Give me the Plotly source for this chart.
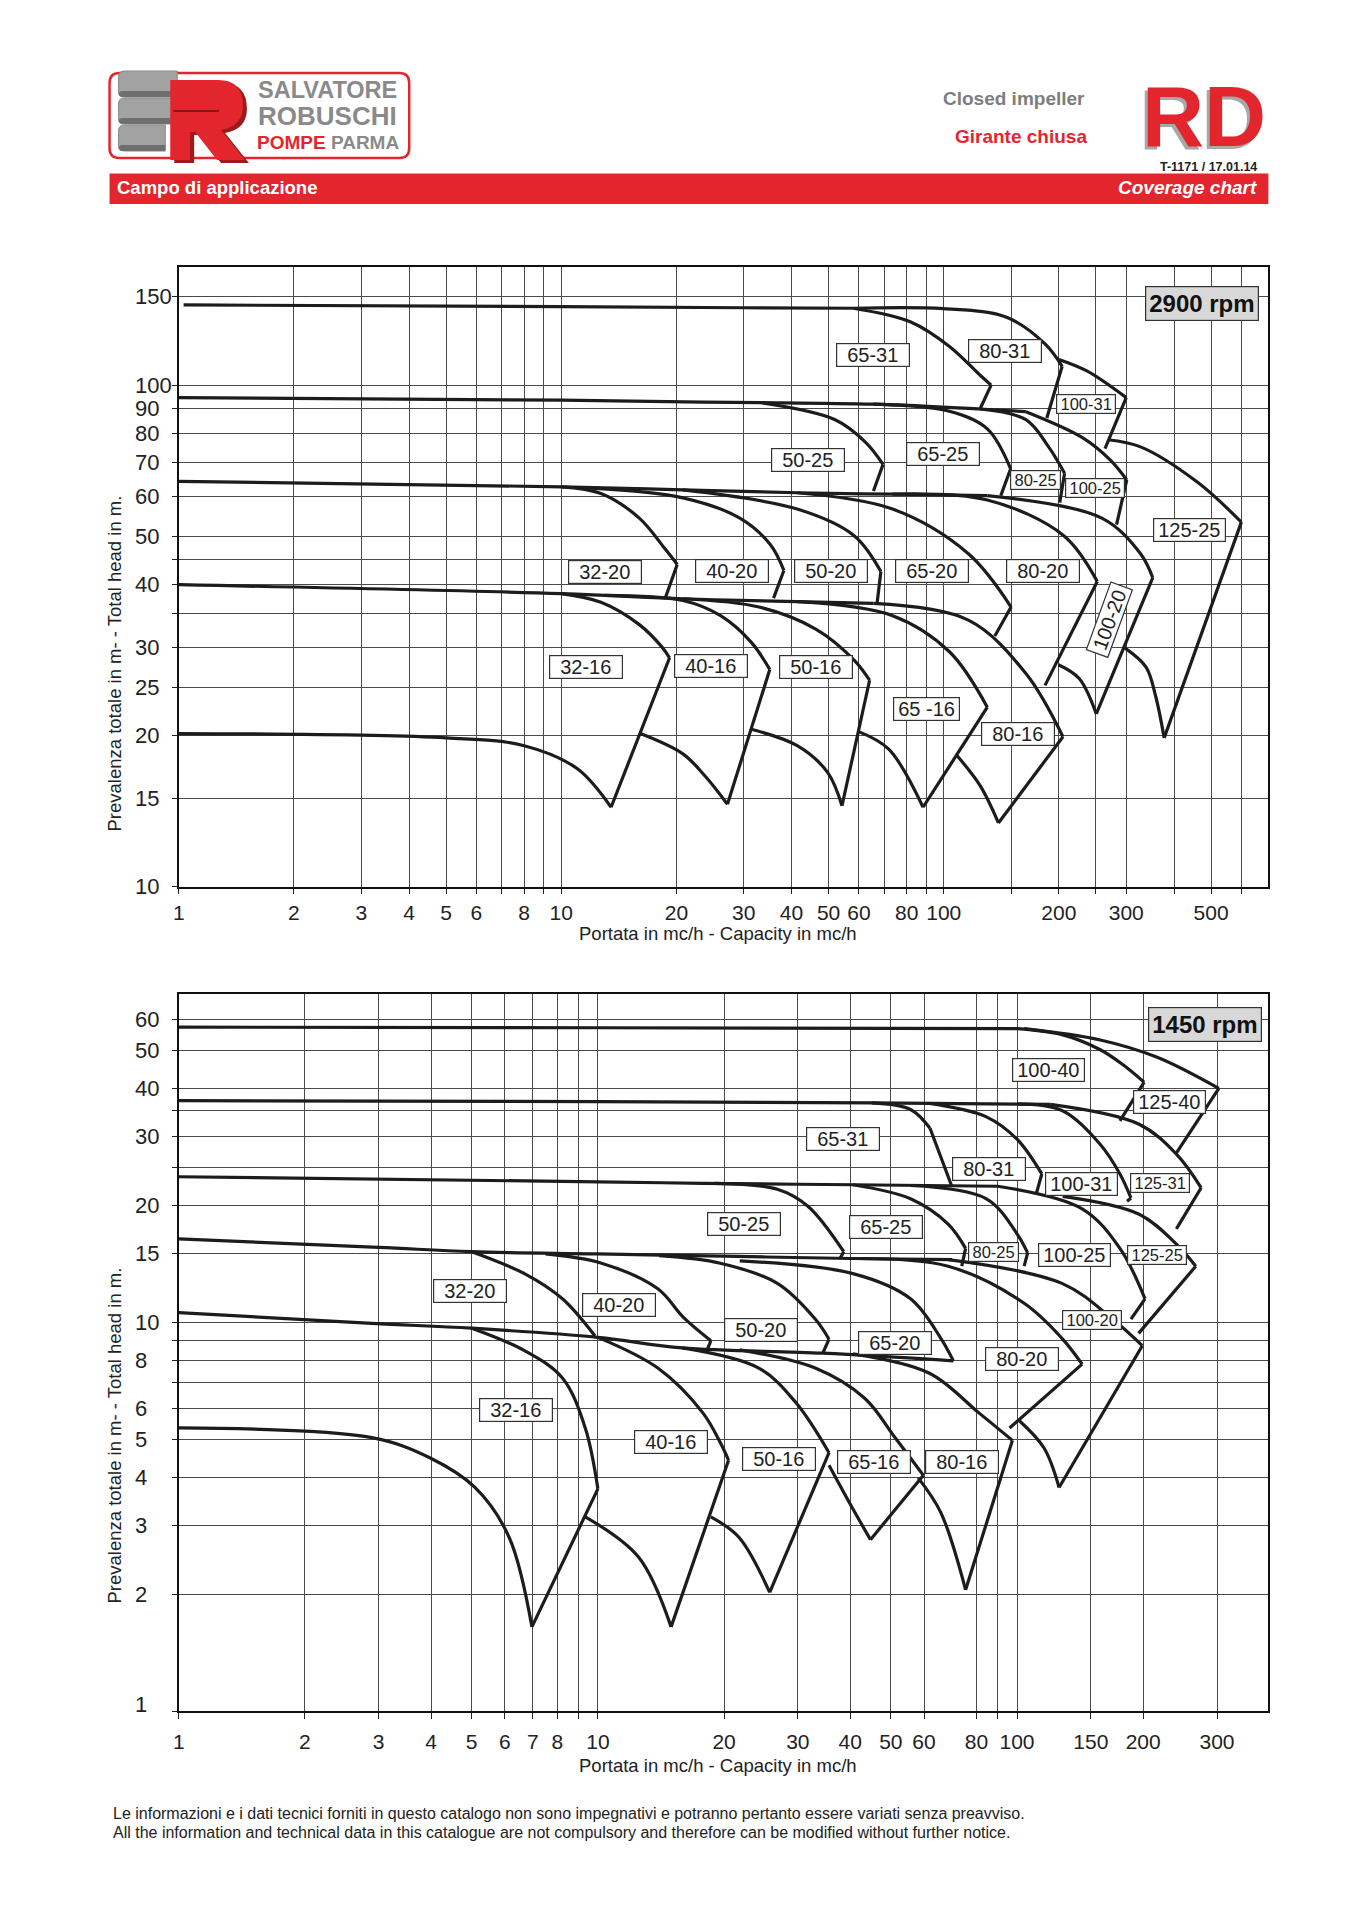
import math
import plotly.graph_objects as go

# ---------------- DATA : 2900 rpm (Q in mc/h, H in m) ----------------
T_LINE_145 = [(1.03, 144.5), (10, 143.3), (30, 142.6), (58, 142.3)]
T_LINE_94 = [(1, 94.4), (10, 93.3), (23.5, 92.5), (33, 92.3), (65.5, 91.6), (124.5, 89.6), (164, 88.5)]
T_LINE_63 = [(1, 64.3), (10, 62.7), (20.8, 61.8), (41.4, 61.0), (73.5, 60.6), (130, 60.2)]
T_LINE_40 = [(1, 40.0), (10, 38.4), (20.8, 37.5), (41.4, 37.0), (65.5, 36.7)]

T_65_31_UP = [(58, 142.3), (82, 133.6), (103.5, 119.4), (124.5, 104.6), (133, 100)]
T_65_31_END = (124.5, 89.7)
T_80_31_UP = [(58, 142.3), (100, 142), (146, 136.5), (184, 120.8), (204, 109)]
T_80_31_END = (186, 86)
T_100_31_UP = [(200, 112.5), (236.7, 106.7), (300, 94.4)]
T_100_31_END = (264, 74.7)
T_50_25_UP = [(33, 92.3), (52, 85.3), (62.5, 76.9), (69.4, 69.5)]
T_50_25_END = (65.5, 61.5)
T_65_25_UP = [(65.5, 91.6), (103.5, 88.7), (130, 81.8), (149.6, 68.1)]
T_65_25_END = (141, 60.2)
T_80_25_UP = [(124.5, 89.6), (164, 85.3), (188, 75.3), (207, 66.7)]
T_80_25_END = (201, 58.3)
T_100_25_UP = [(164, 88.5), (231, 78.5), (272, 71.0), (301, 64.7)]
T_100_25_END = (283, 52.7)
T_125_25_UP = [(268.7, 77.8), (327, 75.3), (461, 64.0), (600, 53.3)]
T_125_25_END = (377, 19.8)
T_125_25_LOW = [(298, 29.9), (338, 27.4), (358, 24.0), (377, 19.8)]
T_32_20_UP = [(10, 62.7), (12.7, 60.8), (16, 54.3), (18.7, 47.1), (20.1, 43.9)]
T_32_20_END = (18.7, 37.6)
T_40_20_UP = [(12, 62.3), (20.8, 59.6), (29.3, 54.3), (35.2, 48.1), (38.2, 42.7)]
T_40_20_END = (35.9, 37.6)
T_50_20_UP = [(20.8, 61.8), (41.4, 56.6), (58.3, 50.1), (68.5, 42.5)]
T_50_20_END = (67.0, 36.9)
T_65_20_UP = [(41.4, 61.0), (73.5, 56.6), (116, 46.1), (150, 36.1)]
T_65_20_END = (136, 31.6)
T_80_20_UP = [(73.5, 60.6), (130, 59.0), (206, 50.1), (252, 40.6)]
T_80_20_END = (184, 25.2)
T_100_20_UP = [(130, 60.2), (259, 54.3), (327, 46.1), (352, 41.3)]
T_100_20_END = (250.5, 22.1)
T_100_20_LOW = [(199.5, 27.7), (226, 26.0), (250.5, 22.1)]
T_32_16_UP = [(10, 38.4), (12.7, 36.9), (16, 33.3), (18.3, 30.1), (19.2, 28.6)]
T_32_16_END = (13.5, 14.4)
T_32_16_LOW = [(1, 20.2), (5, 19.8), (8, 19.1), (11, 17.2), (13.5, 14.4)]
T_40_16_UP = [(13, 38.1), (20.8, 37.2), (26.1, 34.7), (31.4, 30.7), (35.1, 27.1)]
T_40_16_END = (27.2, 14.6)
T_40_16_LOW = [(16.1, 20.2), (20.8, 18.4), (23.8, 16.6), (27.2, 14.6)]
T_50_16_UP = [(20.8, 37.5), (32.9, 36.1), (46.4, 32.6), (58.3, 28.3), (64.0, 25.8)]
T_50_16_END = (54.2, 14.5)
T_50_16_LOW = [(31.4, 20.6), (41.4, 19.1), (49.7, 16.9), (54.2, 14.5)]
T_65_16_UP = [(41.4, 37.0), (73.5, 34.7), (103.5, 29.4), (130, 22.8)]
T_65_16_END = (88.3, 14.4)
T_65_16_LOW = [(59.7, 20.4), (71.8, 18.8), (88.3, 14.4)]
T_80_16_UP = [(65.5, 36.7), (116, 34.0), (164, 26.6), (205, 19.9)]
T_80_16_END = (139, 13.4)
T_80_16_LOW = [(108, 18.3), (124.5, 15.9), (139, 13.4)]

T_LABEL_NAMES = ["65-31", "80-31", "100-31", "50-25", "65-25", "80-25", "100-25", "125-25",
                 "32-20", "40-20", "50-20", "65-20", "80-20", "100-20",
                 "32-16", "40-16", "50-16", "65 -16", "80-16"]
T_LABEL_Q = [65.2, 144.5, 235, 44.3, 99.6, 174, 248, 438,
             13.05, 28.0, 50.8, 93.3, 182, 272,
             11.6, 24.7, 46.4, 90.3, 156.6]
T_LABEL_H = [114.7, 117, 91.6, 71, 72.8, 64.7, 62.4, 51.3,
             42.4, 42.5, 42.5, 42.5, 42.5, 34.1,
             27.4, 27.5, 27.4, 22.6, 20.2]

T_X_TICKS = [1, 2, 3, 4, 5, 6, 8, 10, 20, 30, 40, 50, 60, 80, 100, 200, 300, 500]
T_X_GRID = [1, 2, 3, 4, 5, 6, 7, 8, 9, 10, 20, 30, 40, 50, 60, 70, 80, 90, 100,
            150, 200, 250, 300, 400, 500, 600]
T_Y_TICKS = [10, 15, 20, 25, 30, 40, 50, 60, 70, 80, 90, 100, 150]
T_Y_GRID = [10, 15, 20, 25, 30, 35, 40, 45, 50, 60, 70, 80, 90, 100, 150]

# ---------------- DATA : 1450 rpm ----------------
B_LINE_57 = [(1, 57.5), (10, 57.3), (100, 57.0)]
B_LINE_37 = [(1, 37.2), (10, 37.0), (45, 36.7), (120, 36.4)]
B_LINE_23 = [(1, 23.7), (10, 23.0), (17.8, 22.8), (40.6, 22.6), (90, 22.4)]
B_LINE_16 = [(1, 16.4), (3, 15.6), (5, 15.2), (10, 15.0), (20, 14.8), (40, 14.6), (70, 14.5)]
B_LINE_10 = [(1, 10.6), (2.89, 9.94), (5, 9.66), (10, 9.15), (15.9, 8.6), (34.4, 8.33), (70.5, 7.96)]

B_100_40_UP = [(100, 57.0), (128, 55.0), (158, 50.3), (179, 46.0), (201, 41.5)]
B_100_40_END = (176, 33.0)
B_125_40_UP = [(104, 57.0), (158, 53.3), (216, 48.1), (303, 40.0)]
B_125_40_END = (239, 27.1)
B_65_31_UP = [(45, 36.7), (55.7, 35.3), (62, 31.6)]
B_65_31_END = (70, 22.3)
B_80_31_UP = [(61.8, 36.6), (84.5, 33.8), (100, 29.6), (114.6, 24.1)]
B_80_31_END = (111, 21.3)
B_100_31_UP = [(100, 36.5), (128, 35.1), (158, 28.7), (176, 24.1), (187, 20.9)]
B_100_31_END = (183, 20.5)
B_125_31_UP = [(120, 36.4), (195, 32.4), (240, 27.1), (275, 22.2)]
B_125_31_END = (240, 17.4)
B_50_25_UP = [(19, 22.8), (26.8, 22.0), (31.7, 19.9), (38.6, 15.2)]
B_50_25_END = (37.8, 14.6)
B_65_25_UP = [(40.6, 22.6), (55.7, 20.8), (68.5, 17.9), (75.4, 15.5)]
B_65_25_END = (73.8, 13.95)
B_80_25_UP = [(55.7, 22.5), (84.5, 20.8), (100, 16.9), (106, 15.1)]
B_80_25_END = (104, 13.95)
B_100_25_UP = [(90, 22.4), (143, 19.6), (176, 15.5), (202, 11.5)]
B_100_25_END = (187, 10.2)
B_125_25_UP = [(128.5, 21.1), (195, 19.0), (240, 15.9), (267, 13.95)]
B_125_25_END = (195, 9.37)
B_32_20_UP = [(5, 15.2), (6.68, 13.35), (8.23, 11.5), (9.84, 9.23)]
B_40_20_UP = [(7.5, 15.0), (10.2, 14.2), (13.9, 12.2), (16, 10.3), (18.6, 8.97)]
B_40_20_END = (18.2, 8.46)
B_50_20_UP = [(14, 14.85), (19.6, 14.2), (26.8, 12.6), (33.0, 10.2), (35.6, 9.05)]
B_50_20_END = (34.4, 8.33)
B_65_20_UP = [(21.8, 14.4), (40.6, 13.35), (55.7, 11.5), (65.8, 9.1), (70.5, 7.96)]
B_80_20_UP = [(40.6, 14.6), (68.5, 13.95), (104, 11.2), (128, 9.1), (143, 7.81)]
B_80_20_END = (96, 5.35)
B_100_20_UP = [(68.5, 14.5), (128, 12.6), (169, 10.2), (199, 8.71)]
B_100_20_END = (126, 3.76)
B_100_20_LOW = [(101, 5.6), (116, 4.75), (126, 3.76)]
B_32_16_UP = [(5, 9.66), (6.68, 8.46), (8.23, 7.19), (9.33, 5.35), (10, 3.73)]
B_32_16_END = (6.96, 1.646)
B_32_16_LOW = [(1, 5.35), (2.89, 5.05), (3.96, 4.49), (5.09, 3.76), (6.14, 2.80), (6.96, 1.646)]
B_40_16_UP = [(10, 9.15), (13.9, 7.63), (17.8, 5.85), (19.6, 4.9), (20.5, 4.42)]
B_40_16_END = (14.95, 1.646)
B_40_16_LOW = [(9.33, 3.16), (12.5, 2.49), (14.95, 1.646)]
B_50_16_UP = [(15.9, 8.6), (24.2, 7.63), (29.7, 6.21), (35.6, 4.62)]
B_50_16_END = (25.7, 2.02)
B_50_16_LOW = [(18.6, 3.16), (21.7, 2.80), (25.7, 2.02)]
B_65_16_UP = [(21.8, 8.5), (33.0, 7.63), (43.3, 6.38), (51.2, 5.05), (59.8, 4.04)]
B_65_16_END = (44.7, 2.76)
B_65_16_LOW = [(35.6, 4.29), (39.8, 3.44), (44.7, 2.76)]
B_80_16_UP = [(40.6, 8.3), (61.8, 7.4), (81.1, 5.85), (97.5, 4.97)]
B_80_16_END = (75.4, 2.05)
B_80_16_LOW = [(58.1, 3.98), (65.8, 3.24), (75.4, 2.05)]

B_LABEL_NAMES = ["100-40", "125-40", "65-31", "80-31", "100-31", "125-31",
                 "50-25", "65-25", "80-25", "100-25", "125-25",
                 "32-20", "40-20", "50-20", "65-20", "80-20", "100-20",
                 "32-16", "40-16", "50-16", "65-16", "80-16"]
B_LABEL_Q = [118.6, 231, 38.4, 85.7, 142.6, 219,
             22.3, 48.6, 88.1, 137, 216,
             4.96, 11.2, 24.5, 51.2, 102.8, 150.6,
             6.38, 14.95, 27.1, 45.6, 73.8]
B_LABEL_H = [44.7, 36.9, 29.6, 24.8, 22.7, 22.8,
             17.9, 17.6, 15.15, 14.9, 14.9,
             12.04, 11.1, 9.57, 8.84, 8.04, 10.15,
             5.95, 4.93, 4.45, 4.38, 4.38]

B_X_TICKS = [1, 2, 3, 4, 5, 6, 7, 8, 10, 20, 30, 40, 50, 60, 80, 100, 150, 200, 300]
B_X_GRID = [1, 2, 3, 4, 5, 6, 7, 8, 9, 10, 20, 30, 40, 50, 60, 80, 90, 100, 150, 200, 300]
B_Y_TICKS = [1, 2, 3, 4, 5, 6, 8, 10, 15, 20, 30, 40, 50, 60]
B_Y_GRID = [1, 2, 3, 4, 5, 6, 7, 8, 9, 10, 15, 20, 25, 30, 35, 40, 50, 60]

# ---------------- STYLE / LAYOUT ----------------
W, H = 1357, 1920
LINE_C = "#1c1c1c"
LW = 3.2
GRID_C = "#4a4a4a"
RED = "#e3262d"
DARK_RED = "#9b1b1b"
GRAY = "#8a8a8a"
FONT = "Liberation Sans, Arial, sans-serif"
SMALL_T = {"100-31", "80-25", "100-25"}
SMALL_B = {"80-25", "125-25", "125-31", "100-20"}
EN_SP = "\u2002"
THIN_SP = "\u2009"


def px(x):
    return x / W


def py(y):
    return 1 - y / H


fig = go.Figure()


def add_curve(pts, xa, ya, shape="spline"):
    fig.add_trace(go.Scatter(
        x=[p[0] for p in pts], y=[p[1] for p in pts], mode="lines",
        line=dict(color=LINE_C, width=LW, shape=shape, smoothing=1.0),
        xaxis=xa, yaxis=ya, hoverinfo="skip", showlegend=False))


def add_pump(up, xa, ya, end=None, low=None):
    add_curve(up, xa, ya)
    if end is not None:
        add_curve([up[-1], end], xa, ya, shape="linear")
    if low is not None:
        add_curve(low, xa, ya)


# top chart
for ln in (T_LINE_145, T_LINE_94, T_LINE_63, T_LINE_40):
    add_curve(ln, "x", "y")
add_pump(T_65_31_UP, "x", "y", T_65_31_END)
add_pump(T_80_31_UP, "x", "y", T_80_31_END)
add_pump(T_100_31_UP, "x", "y", T_100_31_END)
add_pump(T_50_25_UP, "x", "y", T_50_25_END)
add_pump(T_65_25_UP, "x", "y", T_65_25_END)
add_pump(T_80_25_UP, "x", "y", T_80_25_END)
add_pump(T_100_25_UP, "x", "y", T_100_25_END)
add_pump(T_125_25_UP, "x", "y", T_125_25_END, T_125_25_LOW)
add_pump(T_32_20_UP, "x", "y", T_32_20_END)
add_pump(T_40_20_UP, "x", "y", T_40_20_END)
add_pump(T_50_20_UP, "x", "y", T_50_20_END)
add_pump(T_65_20_UP, "x", "y", T_65_20_END)
add_pump(T_80_20_UP, "x", "y", T_80_20_END)
add_pump(T_100_20_UP, "x", "y", T_100_20_END, T_100_20_LOW)
add_pump(T_32_16_UP, "x", "y", T_32_16_END, T_32_16_LOW)
add_pump(T_40_16_UP, "x", "y", T_40_16_END, T_40_16_LOW)
add_pump(T_50_16_UP, "x", "y", T_50_16_END, T_50_16_LOW)
add_pump(T_65_16_UP, "x", "y", T_65_16_END, T_65_16_LOW)
add_pump(T_80_16_UP, "x", "y", T_80_16_END, T_80_16_LOW)

# bottom chart
for ln in (B_LINE_57, B_LINE_37, B_LINE_23, B_LINE_16, B_LINE_10):
    add_curve(ln, "x2", "y2")
add_pump(B_100_40_UP, "x2", "y2", B_100_40_END)
add_pump(B_125_40_UP, "x2", "y2", B_125_40_END)
add_pump(B_65_31_UP, "x2", "y2", B_65_31_END)
add_pump(B_80_31_UP, "x2", "y2", B_80_31_END)
add_pump(B_100_31_UP, "x2", "y2", B_100_31_END)
add_pump(B_125_31_UP, "x2", "y2", B_125_31_END)
add_pump(B_50_25_UP, "x2", "y2", B_50_25_END)
add_pump(B_65_25_UP, "x2", "y2", B_65_25_END)
add_pump(B_80_25_UP, "x2", "y2", B_80_25_END)
add_pump(B_100_25_UP, "x2", "y2", B_100_25_END)
add_pump(B_125_25_UP, "x2", "y2", B_125_25_END)
add_pump(B_32_20_UP, "x2", "y2")
add_pump(B_40_20_UP, "x2", "y2", B_40_20_END)
add_pump(B_50_20_UP, "x2", "y2", B_50_20_END)
add_pump(B_65_20_UP, "x2", "y2")
add_pump(B_80_20_UP, "x2", "y2", B_80_20_END)
add_pump(B_100_20_UP, "x2", "y2", B_100_20_END, B_100_20_LOW)
add_pump(B_32_16_UP, "x2", "y2", B_32_16_END, B_32_16_LOW)
add_pump(B_40_16_UP, "x2", "y2", B_40_16_END, B_40_16_LOW)
add_pump(B_50_16_UP, "x2", "y2", B_50_16_END, B_50_16_LOW)
add_pump(B_65_16_UP, "x2", "y2", B_65_16_END, B_65_16_LOW)
add_pump(B_80_16_UP, "x2", "y2", B_80_16_END, B_80_16_LOW)


def fmt(v):
    return str(int(v)) if float(v).is_integer() else str(v)


def axis(grid, ticks, rng, domain, anchor, ticklen, standoff, labels=True):
    return dict(
        type="log", range=rng, domain=domain, anchor=anchor,
        tickmode="array", tickvals=grid,
        ticktext=[fmt(v) if v in ticks else "" for v in grid],
        showticklabels=labels,
        showgrid=True, gridcolor=GRID_C, gridwidth=1,
        ticks="outside", ticklen=ticklen, tickwidth=1, tickcolor="#222",
        showline=True, linecolor="#111", linewidth=2, mirror=True,
        zeroline=False, tickfont=dict(family=FONT, size=21, color="#222"),
        ticklabelstandoff=standoff, fixedrange=True)


XD = [px(173.5), px(1267.7)]
fig.update_layout(
    width=W, height=H, margin=dict(l=0, r=0, t=0, b=0),
    paper_bgcolor="white", plot_bgcolor="white", showlegend=False,
    xaxis=axis(T_X_GRID, T_X_TICKS, [0, 2.848], XD, "y", 5, 1),
    yaxis=axis(T_Y_GRID, T_Y_TICKS, [1, 2.236], [py(886.7), py(266.7)], "x", 5, 0, False),
    xaxis2=axis(B_X_GRID, B_X_TICKS, [0, 2.599], XD, "y2", 6, 5),
    yaxis2=axis(B_Y_GRID, B_Y_TICKS, [0, 1.845], [py(1711), py(994)], "x2", 5, 0, False),
)

ann = []
# y tick labels (left aligned as in the printed chart)
for ticks, yr in ((T_Y_TICKS, "y"), (B_Y_TICKS, "y2")):
    for v in ticks:
        ann.append(dict(x=px(128), y=math.log10(v), xref="paper", yref=yr, text=fmt(v),
                        xanchor="left", yanchor="middle", showarrow=False,
                        yshift=7 if (yr == "y2" and v == 1) else 0,
                        font=dict(family=FONT, size=22, color="#222")))

# pump labels
for names, qs, hs, small, xr, yr in ((T_LABEL_NAMES, T_LABEL_Q, T_LABEL_H, SMALL_T, "x", "y"),
                                      (B_LABEL_NAMES, B_LABEL_Q, B_LABEL_H, SMALL_B, "x2", "y2")):
    for n, q, h in zip(names, qs, hs):
        sm = n in small
        pad = EN_SP if (len(n) == 5 and not sm) else THIN_SP
        ann.append(dict(
            x=math.log10(q), y=math.log10(h), xref=xr, yref=yr, text=pad + n + pad,
            showarrow=False, xanchor="center", yanchor="middle",
            font=dict(family=FONT, size=16.5 if sm else 20, color="#222"),
            bgcolor="white", bordercolor="#333", borderwidth=1.2, borderpad=0,
            textangle=-70 if (n == "100-20" and xr == "x") else 0))

# rpm boxes
ann.append(dict(x=px(1258.6), y=py(303.5), xanchor="right",
                text="<b>2900 rpm</b>", font=dict(family=FONT, size=24, color="#111"),
                bgcolor="#d8d8d8", bordercolor="#333", borderwidth=1.2, borderpad=3))
ann.append(dict(x=px(1261.7), y=py(1024), xanchor="right",
                text="<b>1450 rpm</b>", font=dict(family=FONT, size=24, color="#111"),
                bgcolor="#d8d8d8", bordercolor="#333", borderwidth=1.2, borderpad=3))

# axis titles
XT = "Portata in mc/h - Capacity in mc/h"
YT = "Prevalenza totale in m- - Total head in m."
for (x, y, t, a) in ((715, 933, XT, 0), (108, 664, YT, -90), (715, 1765, XT, 0), (108, 1436, YT, -90)):
    ann.append(dict(x=px(x), y=py(y), text=t, textangle=a,
                    font=dict(family=FONT, size=18.5, color="#222")))

# header texts
ann += [
    dict(x=px(1086), y=py(99), xanchor="right", text="<b>Closed impeller</b>",
         font=dict(family=FONT, size=19, color="#7d7d7d")),
    dict(x=px(1088), y=py(137), xanchor="right", text="<b>Girante chiusa</b>",
         font=dict(family=FONT, size=19, color=RED)),
    dict(x=px(1203), y=py(116.5), text="<b>RD</b>",
         font=dict(family=FONT, size=86, color=RED, shadow="-3px 3px 0px #a8a8a8")),
    dict(x=px(1259), y=py(167), xanchor="right", text="<b>T-1171 / 17.01.14</b>",
         font=dict(family=FONT, size=12.5, color="#222")),
    dict(x=px(109), y=py(188), xanchor="left", text="<b>Campo di applicazione</b>",
         font=dict(family=FONT, size=18.5, color="white")),
    dict(x=px(1259), y=py(188), xanchor="right", text="<b><i>Coverage chart</i></b>",
         font=dict(family=FONT, size=19, color="white")),
    # logo words
    dict(x=px(323), y=py(90), text="<b>SALVATORE</b>",
         font=dict(family=FONT, size=23.5, color=GRAY)),
    dict(x=px(323), y=py(116), text="<b>ROBUSCHI</b>",
         font=dict(family=FONT, size=26, color=GRAY)),
    dict(x=px(323), y=py(142), text="<b><span style='color:%s'>POMPE</span> PARMA</b>" % RED,
         font=dict(family=FONT, size=19, color=GRAY)),
    # footer
    dict(x=px(105), y=py(1813), xanchor="left",
         text="Le informazioni e i dati tecnici forniti in questo catalogo non sono impegnativi e potranno pertanto essere variati senza preavviso.",
         font=dict(family=FONT, size=16, color="#222")),
    dict(x=px(105), y=py(1832), xanchor="left",
         text="All the information and technical data in this catalogue are not compulsory and therefore can be modified without further notice.",
         font=dict(family=FONT, size=16, color="#222")),
]
for a in ann:
    a.setdefault("xref", "paper")
    a.setdefault("yref", "paper")
    a.setdefault("showarrow", False)
    a.setdefault("xanchor", "center")
    a.setdefault("yanchor", "middle")
fig.update_layout(annotations=ann)


# ---- header / logo artwork (page pixel coordinates -> paper) ----
def path_of(cmds):
    out = []
    for c in cmds:
        if isinstance(c, str):
            out.append(c)
        else:
            out.append(f"{px(c[0]):.5f},{py(c[1]):.5f}")
    return " ".join(out)


def slab(x0, y0, x1, y1, r=6):
    return path_of(["M", (x0 + r, y0), "L", (x1, y0), "L", (x1, y1), "L", (x0 + r, y1),
                    "Q", (x0, y1), (x0, y1 - r), "L", (x0, y0 + r), "Q", (x0, y0), (x0 + r, y0), "Z"])


def r_letter(dx=0, dy=0):
    pts = ["M", (165, 80), "L", (213, 80), "Q", (238, 80), (238, 106), "Q", (238, 126), (216, 130),
           "L", (240, 160), "L", (212, 160), "L", (190, 132), "L", (185, 132), "L", (185, 160),
           "L", (165, 160), "Z"]
    return path_of([p if isinstance(p, str) else (p[0] + dx, p[1] + dy) for p in pts])


shapes = [
    dict(type="rect", xref="paper", yref="paper", x0=px(104), x1=px(1268), y0=py(204), y1=py(173.5),
         fillcolor=RED, line=dict(width=0), layer="below"),
    dict(type="path", xref="paper", yref="paper",
         path=path_of(["M", (114, 73), "L", (395, 73), "Q", (405, 73), (405, 83), "L", (405, 148),
                       "Q", (405, 158), (395, 158), "L", (114, 158), "Q", (104, 158), (104, 148),
                       "L", (104, 83), "Q", (104, 73), (114, 73), "Z"]),
         line=dict(color=RED, width=2.5), fillcolor="rgba(0,0,0,0)", layer="below"),
]
# gray stacked "S" blocks
for (a, b, c, d) in ((113, 71, 172, 97), (113, 98, 166, 124), (113, 125, 160, 151)):
    shapes.append(dict(type="path", xref="paper", yref="paper", path=slab(a, b, c, d),
                       fillcolor="#a2a2a2", line=dict(color="#8a8a8a", width=1)))
    shapes.append(dict(type="path", xref="paper", yref="paper", path=slab(a, d - 6, c, d, 4),
                       fillcolor="#6f6f6f", line=dict(width=0)))
# red "R" with dark side
shapes.append(dict(type="path", xref="paper", yref="paper", path=r_letter(4, 3),
                   fillcolor=DARK_RED, line=dict(width=0)))
shapes.append(dict(type="path", xref="paper", yref="paper", path=r_letter(),
                   fillcolor=RED, line=dict(width=0)))
shapes.append(dict(type="line", xref="paper", yref="paper", x0=px(168), y0=py(111), x1=px(214), y1=py(111),
                   line=dict(color="#8e1515", width=2)))
fig.update_layout(shapes=shapes)

fig.write_html("out.html", config={"displayModeBar": False},
               post_script="document.body.style.margin='0';document.body.style.overflow='hidden';")
